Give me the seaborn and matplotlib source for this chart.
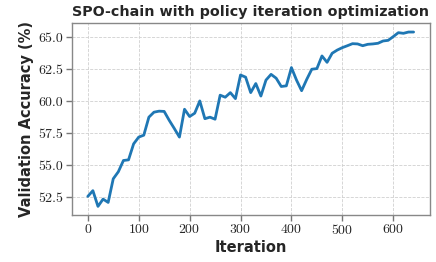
import numpy as np
import pandas as pd
import matplotlib
matplotlib.use("Agg")
import matplotlib.pyplot as plt
import seaborn as sns

# validation accuracy every 10 iterations
iterations = list(range(0, 650, 10))
accuracy = [
    52.55, 53.0, 51.77, 52.34, 52.08, 53.93, 54.48, 55.36, 55.41, 56.66,
    57.19, 57.34, 58.75, 59.14, 59.22, 59.2, 58.5, 57.86, 57.19, 59.37,
    58.8, 59.06, 60.02, 58.63, 58.75, 58.59, 60.47, 60.31, 60.67, 60.2,
    62.05, 61.88, 60.67, 61.38, 60.4, 61.65, 62.1, 61.8, 61.15, 61.2,
    62.63, 61.65, 60.82, 61.7, 62.5, 62.55, 63.54, 63.04, 63.75, 64.0,
    64.19, 64.34, 64.5, 64.48, 64.34, 64.45, 64.48, 64.53, 64.71, 64.76,
    65.05, 65.36, 65.31, 65.41, 65.41,
]
df = pd.DataFrame({"Iteration": iterations, "acc": accuracy})

sns.set_theme(style="whitegrid")
plt.rcParams["font.family"] = ["DejaVu Sans"]
plt.rcParams["axes.formatter.use_mathtext"] = True

fig, ax = plt.subplots(figsize=(4.36, 2.62), dpi=100)
sns.lineplot(data=df, x="Iteration", y="acc", ax=ax, color="#1f77b4", linewidth=2)

ax.set_title("SPO-chain with policy iteration optimization", fontsize=10.3, fontweight="bold", pad=5)
ax.set_xlabel("Iteration", fontsize=10.5, fontweight="bold", labelpad=2)
ax.set_ylabel("Validation Accuracy (%)", fontsize=10.5, fontweight="bold", labelpad=3)

ax.set_xticks([0, 100, 200, 300, 400, 500, 600])
ax.set_yticks([52.5, 55.0, 57.5, 60.0, 62.5, 65.0])
ax.set_yticklabels(["52.5", "55.0", "57.5", "60.0", "62.5", "65.0"])
for lab in ax.get_xticklabels() + ax.get_yticklabels():
    lab.set_fontfamily("cmr10")
    lab.set_fontsize(10)

ax.grid(True, linestyle="--", linewidth=0.6, color="#d0d0d0")
ax.tick_params(axis="both", direction="out", length=4, width=1, color="#777777", pad=2, bottom=True, left=True)
for s in ax.spines.values():
    s.set_color("#888888")
    s.set_linewidth(1)

plt.subplots_adjust(left=0.164, right=0.986, top=0.911, bottom=0.179)
plt.savefig("out.png", dpi=100)
plt.close()
